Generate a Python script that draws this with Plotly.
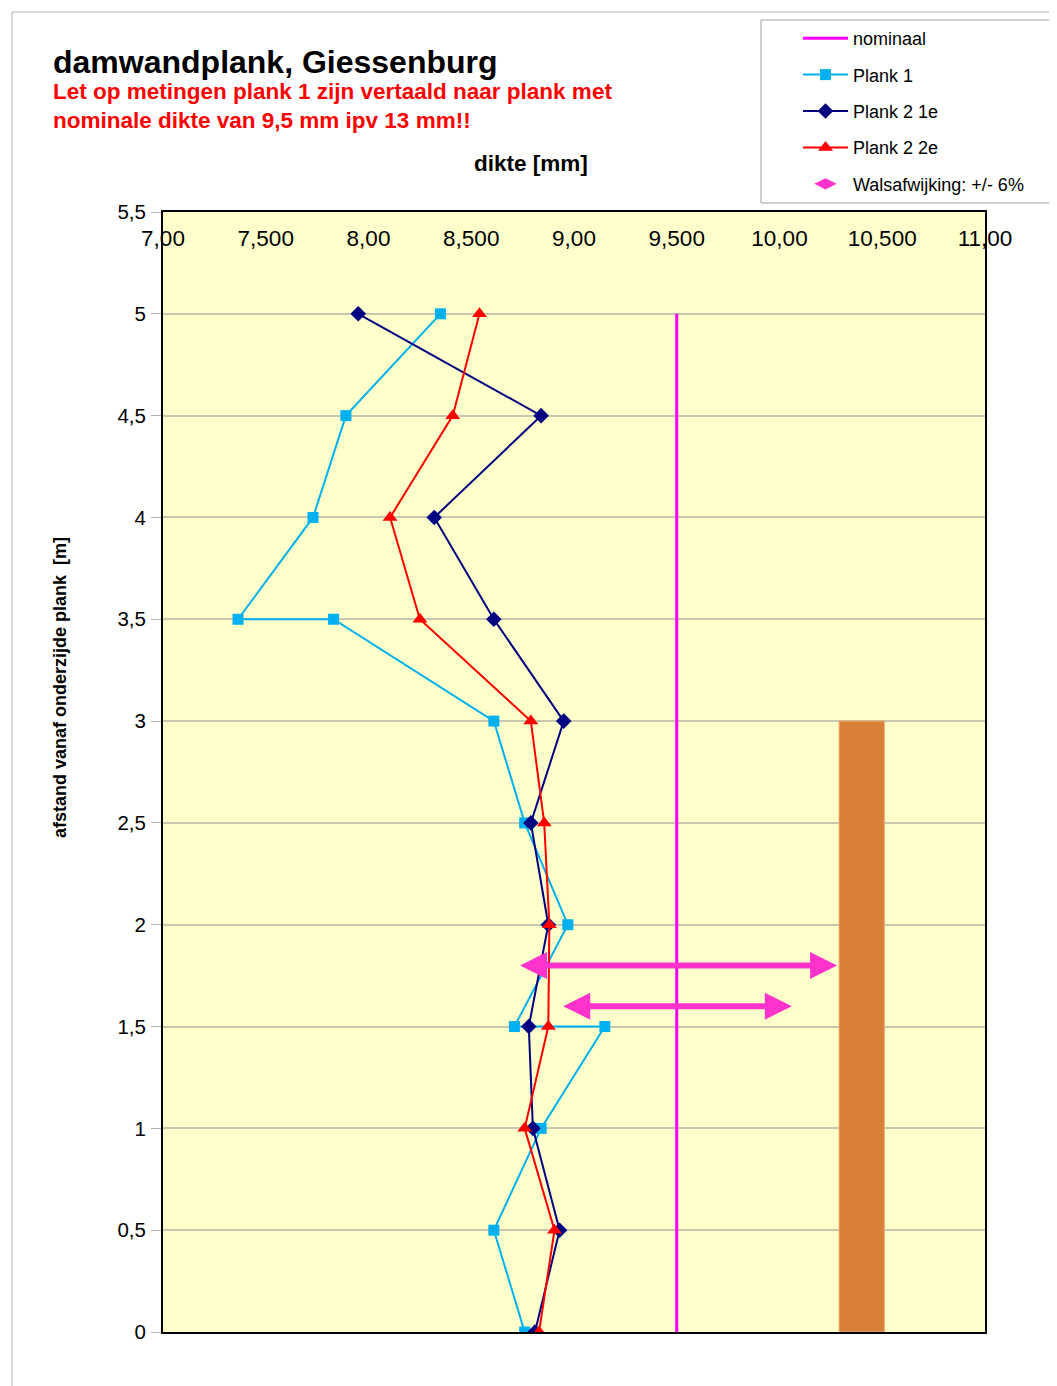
import plotly.graph_objects as go

# ---------------- data ----------------
afstand_p1 = [0, 0.5, 1, 1.5, 1.5, 2, 2.5, 3, 3.5, 3.5, 4, 4.5, 5]
dikte_p1 = [8.76, 8.61, 8.84, 9.15, 8.71, 8.97, 8.76, 8.61, 7.83, 7.365, 7.73, 7.89, 8.35]

afstand_p2 = [0, 0.5, 1, 1.5, 2, 2.5, 3, 3.5, 4, 4.5, 5]
dikte_p2_1e = [8.81, 8.93, 8.80, 8.78, 8.875, 8.79, 8.95, 8.61, 8.32, 8.84, 7.95]
dikte_p2_2e = [8.83, 8.905, 8.76, 8.875, 8.88, 8.855, 8.79, 8.25, 8.105, 8.41, 8.54]

nominaal_x = [9.5, 9.5]
nominaal_y = [0, 5]

walsaf_y = [1.8, 1.6]
walsaf_low = [8.73, 8.94]
walsaf_high = [10.28, 10.06]

bar_x = [10.4]
bar_width = [0.22]
bar_h = [3]

x_tickvals = [7.0, 7.5, 8.0, 8.5, 9.0, 9.5, 10.0, 10.5, 11.0]
x_ticktext = ["7,00", "7,500", "8,00", "8,500", "9,00", "9,500", "10,00", "10,500", "11,00"]
y_tickvals = [0, 0.5, 1, 1.5, 2, 2.5, 3, 3.5, 4, 4.5, 5, 5.5]
y_ticktext = ["0", "0,5", "1", "1,5", "2", "2,5", "3", "3,5", "4", "4,5", "5", "5,5"]

# ---------------- layout helpers ----------------
OFF = 8  # page body margin
W, H = 1057 - OFF, 1386 - OFF
L, R, T, B = 163 - OFF, 985 - OFF, 212 - OFF, 1332 - OFF
def px(xp):
    return (xp - OFF - L) / (R - L)
def py(yp):
    return (B - (yp - OFF)) / (B - T)

FONT = "Liberation Sans, Arial, sans-serif"
C_P1 = "#00B0F0"
C_P21 = "#000080"
C_P22 = "#FF0000"
C_NOM = "#FF00FF"
C_ARR = "#FF33CC"

fig = go.Figure()

fig.add_trace(go.Bar(x=bar_x, y=bar_h, width=bar_width,
                     marker=dict(color="#D98038", line=dict(color="#EBA867", width=1)),
                     showlegend=False, hoverinfo="skip"))

fig.add_trace(go.Scatter(x=nominaal_x, y=nominaal_y, mode="lines", name="nominaal",
                         line=dict(color=C_NOM, width=3), legendgroup="a"))
fig.add_trace(go.Scatter(x=dikte_p1, y=afstand_p1, mode="lines+markers", name="Plank 1",
                         line=dict(color=C_P1, width=2),
                         marker=dict(symbol="square", size=11, color=C_P1), legendgroup="b"))
fig.add_trace(go.Scatter(x=dikte_p2_1e, y=afstand_p2, mode="lines+markers", name="Plank 2 1e",
                         line=dict(color=C_P21, width=2),
                         marker=dict(symbol="diamond", size=12, color=C_P21), legendgroup="c"))
fig.add_trace(go.Scatter(x=dikte_p2_2e, y=afstand_p2, mode="lines+markers", name="Plank 2 2e",
                         line=dict(color=C_P22, width=2),
                         marker=dict(symbol="triangle-up", size=13, color=C_P22), legendgroup="d"))
fig.add_trace(go.Scatter(x=[None], y=[None], mode="markers", name="Walsafwijking: +/- 6%",
                         marker=dict(symbol="diamond-wide", size=30, color=C_ARR), legendgroup="e"))

annotations = []
for yv, lo, hi in zip(walsaf_y, walsaf_low, walsaf_high):
    annotations.append(dict(x=hi, y=yv, ax=lo, ay=yv, xref="x", yref="y", axref="x", ayref="y",
                            text="", showarrow=True, arrowhead=2, startarrowhead=2,
                            arrowside="end+start", arrowsize=0.9, startarrowsize=0.9,
                            arrowwidth=6, arrowcolor=C_ARR, standoff=0, startstandoff=0))

annotations += [
    dict(text="<b>damwandplank, Giessenburg</b>", x=px(51), y=py(62), xref="paper", yref="paper",
         xanchor="left", yanchor="middle", showarrow=False, font=dict(family=FONT, size=32, color="black")),
    dict(text="<b>Let op metingen plank 1 zijn vertaald naar plank met<br>nominale dikte van 9,5 mm ipv 13 mm!!</b>",
         x=px(51), y=py(106), xref="paper", yref="paper", xanchor="left", yanchor="middle", align="left",
         showarrow=False, font=dict(family=FONT, size=22.5, color="#FF0000")),
    dict(text="<b>dikte [mm]</b>", x=px(531), y=py(164), xref="paper", yref="paper",
         xanchor="center", yanchor="middle", showarrow=False, font=dict(family=FONT, size=22.5, color="black")),
    dict(text="<b>afstand vanaf onderzijde plank  [m]</b>", x=px(60), y=py(687), xref="paper", yref="paper",
         xanchor="center", yanchor="middle", textangle=-90, showarrow=False,
         font=dict(family=FONT, size=18, color="black")),
]

shapes = [
    dict(type="rect", xref="paper", yref="paper", x0=px(12), y0=py(12), x1=px(1100), y1=py(1420),
         line=dict(color="#B0B0B0", width=1), layer="below"),
    dict(type="rect", xref="paper", yref="paper", x0=px(761), y0=py(20), x1=px(1100), y1=py(203),
         line=dict(color="#A0A0A0", width=1), fillcolor="white", layer="below"),
]

fig.update_layout(
    width=W, height=H,
    margin=dict(l=L, r=W - R, t=T, b=H - B),
    paper_bgcolor="white", plot_bgcolor="#FFFFCC",
    font=dict(family=FONT, color="black"),
    barmode="overlay",
    showlegend=True,
    legend=dict(x=px(798), y=py(20), xanchor="left", yanchor="top",
                bgcolor="rgba(0,0,0,0)", borderwidth=0,
                font=dict(family=FONT, size=18, color="black"),
                itemwidth=45, tracegroupgap=10, traceorder="grouped"),
    annotations=annotations, shapes=shapes,
)

fig.update_xaxes(range=[7, 11], side="top", tickvals=x_tickvals, ticktext=x_ticktext,
                 ticklabelposition="inside", ticklabeloverflow="allow", ticklabelstandoff=20,
                 tickfont=dict(family=FONT, size=22.5, color="black"),
                 showgrid=False, zeroline=False, showline=True, linecolor="black", linewidth=2,
                 mirror=True, ticks="", fixedrange=True)
fig.update_yaxes(range=[0, 5.5], tickvals=y_tickvals, ticktext=y_ticktext,
                 tickfont=dict(family=FONT, size=20.5, color="black"),
                 showgrid=True, gridcolor="#C8C8B0", gridwidth=1.5, zeroline=False,
                 showline=True, linecolor="black", linewidth=2, mirror=True,
                 ticks="outside", ticklen=10, tickcolor="#B0B0B0", ticklabelstandoff=1)

fig.write_html("out.html")
